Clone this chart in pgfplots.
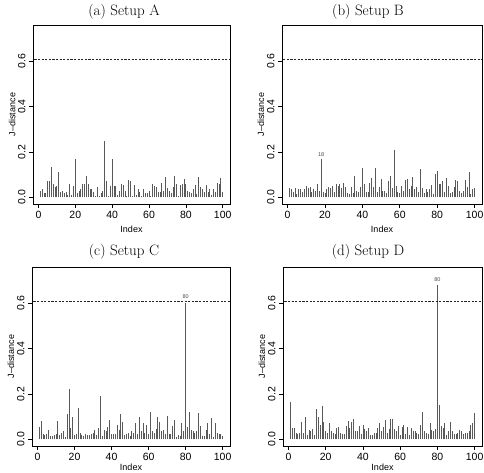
\documentclass[border=0pt]{standalone}
\usepackage{fontspec}
\setsansfont{Liberation Sans}
\usepackage{pgfplots}
\pgfplotsset{compat=1.18}
\pgfplotsset{
  rstyle/.style={
    scale only axis,
    width=#1,
    height=179pt,
    xmin=-2.96, xmax=103.96,
    ymin=-0.0292, ymax=0.7592,
    axis line style={line width=0.6pt},
    tick align=outside,
    major tick length=4pt,
    tick style={line width=0.6pt, black},
    xtick={0,20,40,60,80,100},
    ytick={0,0.2,0.4,0.6},
    xtick pos=bottom, ytick pos=left,
    /pgf/number format/assume math mode=true,
    every tick label/.append style={font=\fontsize{10.5}{11}\sffamily},
    yticklabel={\pgfmathprintnumber[fixed,fixed zerofill,precision=1]{\tick}},
    every y tick label/.append style={rotate=90, anchor=south},
    every x tick label/.append style={anchor=north},
    xlabel={Index},
    ylabel={J\textendash distance},
    every axis label/.append style={font=\fontsize{9}{10}\sffamily},
    every axis x label/.append style={at={(axis description cs:0.5,0)}, anchor=center},
    every axis y label/.append style={at={(axis description cs:-0.106,0.5)}, anchor=center},
  },
  top/.style={every axis x label/.append style={yshift=-25pt}},
  bot/.style={every axis x label/.append style={yshift=-21.5pt}},
  thr/.style={black!85, line width=0.45pt, dash pattern=on 2.2pt off 1.4pt},
  bars/.style={ycomb, no markers, black!65, line width=0.9pt},
}
\begin{document}
\begin{tikzpicture}
\useasboundingbox (0,0) rectangle (484pt,473pt);
% (a)
\node[font=\fontsize{15}{17}\selectfont] at (124pt,461pt) {(a) Setup A};
\begin{axis}[rstyle=197pt, top, at={(33pt,269pt)}]
\addplot[bars] coordinates {(1,0.03)(2,0.035)(3,0.02)(4,0.02)(5,0.07)(6,0.07)(7,0.135)(8,0.06)(9,0.045)(10,0.05)
(11,0.11)(12,0.025)(13,0.03)(14,0.02)(15,0.025)(16,0.01)(17,0.06)(18,0.01)(19,0.05)(20,0.17)
(21,0.02)(22,0.03)(23,0.035)(24,0.06)(25,0.06)(26,0.095)(27,0.06)(28,0.035)(29,0.035)(30,0.025)
(31,0.005)(32,0.045)(33,0.005)(34,0.02)(35,0.03)(36,0.25)(37,0.07)(38,0.005)(39,0.05)(40,0.17)
(41,0.05)(42,0.05)(43,0.01)(44,0.03)(45,0.06)(46,0.055)(47,0.03)(48,0.005)(49,0.075)(50,0.07)
(51,0.005)(52,0.055)(53,0.01)(54,0.035)(55,0.025)(56,0.005)(57,0.035)(58,0.02)(59,0.02)(60,0.03)
(61,0.005)(62,0.06)(63,0.05)(64,0.045)(65,0.025)(66,0.025)(67,0.065)(68,0.03)(69,0.09)(70,0.04)
(71,0.03)(72,0.02)(73,0.045)(74,0.095)(75,0.06)(76,0.005)(77,0.055)(78,0.06)(79,0.08)(80,0.06)
(81,0.03)(82,0.025)(83,0.02)(84,0.035)(85,0.055)(86,0.015)(87,0.09)(88,0.045)(89,0.035)(90,0.025)
(91,0.055)(92,0.025)(93,0.035)(94,0.01)(95,0.035)(96,0.025)(97,0.065)(98,0.06)(99,0.085)(100,0.025)};
\addplot[thr, sharp plot] coordinates {(-10,0.607)(110,0.607)};
\end{axis}
% (b)
\node[font=\fontsize{15}{17}\selectfont] at (368pt,461pt) {(b) Setup B};
\begin{axis}[rstyle=200pt, top, at={(282pt,269pt)}]
\addplot[bars] coordinates {(1,0.04)(2,0.035)(3,0.025)(4,0.04)(5,0.015)(6,0.035)(7,0.035)(8,0.025)(9,0.035)(10,0.05)
(11,0.04)(12,0.045)(13,0.025)(14,0.035)(15,0.03)(16,0.06)(17,0.03)(18,0.17)(19,0.025)(20,0.02)
(21,0.035)(22,0.045)(23,0.04)(24,0.05)(25,0.025)(26,0.06)(27,0.05)(28,0.06)(29,0.04)(30,0.065)
(31,0.045)(32,0.02)(33,0.015)(34,0.045)(35,0.02)(36,0.095)(37,0.03)(38,0.025)(39,0.045)(40,0.13)
(41,0.06)(42,0.025)(43,0.025)(44,0.065)(45,0.085)(46,0.045)(47,0.13)(48,0.025)(49,0.045)(50,0.08)
(51,0.03)(52,0.03)(53,0.02)(54,0.07)(55,0.095)(56,0.04)(57,0.21)(58,0.05)(59,0.025)(60,0.02)
(61,0.05)(62,0.03)(63,0.075)(64,0.08)(65,0.035)(66,0.05)(67,0.09)(68,0.035)(69,0.045)(70,0.025)
(71,0.125)(72,0.04)(73,0.02)(74,0.035)(75,0.025)(76,0.035)(77,0.055)(78,0.015)(79,0.105)(80,0.115)
(81,0.06)(82,0.06)(83,0.07)(84,0.025)(85,0.085)(86,0.05)(87,0.02)(88,0.025)(89,0.045)(90,0.075)
(91,0.07)(92,0.03)(93,0.02)(94,0.03)(95,0.075)(96,0.045)(97,0.11)(98,0.015)(99,0.035)(100,0.04)};
\addplot[thr, sharp plot] coordinates {(-10,0.607)(110,0.607)};
\node[font=\fontsize{5.5}{6}\sffamily, black!70] at (axis cs:18,0.19) {18};
\end{axis}
% (c)
\node[font=\fontsize{15}{17}\selectfont] at (124pt,221pt) {(c) Setup C};
\begin{axis}[rstyle=198pt, bot, at={(32pt,27pt)}]
\addplot[bars] coordinates {(1,0.055)(2,0.08)(3,0.025)(4,0.02)(5,0.025)(6,0.04)(7,0.015)(8,0.015)(9,0.02)(10,0.025)
(11,0.08)(12,0.02)(13,0.03)(14,0.035)(15,0.01)(16,0.11)(17,0.22)(18,0.05)(19,0.1)(20,0.02)
(21,0.025)(22,0.14)(23,0.03)(24,0.02)(25,0.015)(26,0.025)(27,0.02)(28,0.02)(29,0.025)(30,0.03)
(31,0.04)(32,0.02)(33,0.05)(34,0.19)(35,0.015)(36,0.04)(37,0.035)(38,0.055)(39,0.085)(40,0.025)
(41,0.025)(42,0.025)(43,0.065)(44,0.04)(45,0.11)(46,0.075)(47,0.02)(48,0.025)(49,0.03)(50,0.015)
(51,0.035)(52,0.03)(53,0.07)(54,0.025)(55,0.1)(56,0.035)(57,0.07)(58,0.03)(59,0.065)(60,0.025)
(61,0.12)(62,0.035)(63,0.03)(64,0.045)(65,0.1)(66,0.075)(67,0.035)(68,0.04)(69,0.025)(70,0.105)
(71,0.025)(72,0.025)(73,0.06)(74,0.085)(75,0.01)(76,0.02)(77,0.015)(78,0.07)(79,0.035)(80,0.6)
(81,0.055)(82,0.12)(83,0.04)(84,0.035)(85,0.03)(86,0.035)(87,0.115)(88,0.06)(89,0.015)(90,0.015)
(91,0.04)(92,0.07)(93,0.025)(94,0.095)(95,0.01)(96,0.07)(97,0.03)(98,0.025)(99,0.025)(100,0.015)};
\addplot[thr, sharp plot] coordinates {(-10,0.607)(110,0.607)};
\node[font=\fontsize{5.5}{6}\sffamily, black!70] at (axis cs:80,0.63) {80};
\end{axis}
% (d)
\node[font=\fontsize{15}{17}\selectfont] at (368pt,221pt) {(d) Setup D};
\begin{axis}[rstyle=199pt, bot, at={(283pt,27pt)}]
\addplot[bars] coordinates {(1,0.165)(2,0.05)(3,0.05)(4,0.03)(5,0.025)(6,0.03)(7,0.075)(8,0.03)(9,0.1)(10,0.02)
(11,0.04)(12,0.035)(13,0.045)(14,0.02)(15,0.135)(16,0.1)(17,0.065)(18,0.145)(19,0.075)(20,0.035)
(21,0.03)(22,0.07)(23,0.035)(24,0.03)(25,0.025)(26,0.05)(27,0.055)(28,0.03)(29,0.025)(30,0.025)
(31,0.06)(32,0.08)(33,0.05)(34,0.075)(35,0.09)(36,0.035)(37,0.035)(38,0.06)(39,0.025)(40,0.065)
(41,0.045)(42,0.035)(43,0.05)(44,0.02)(45,0.02)(46,0.03)(47,0.03)(48,0.05)(49,0.07)(50,0.035)
(51,0.055)(52,0.085)(53,0.03)(54,0.045)(55,0.09)(56,0.09)(57,0.045)(58,0.035)(59,0.06)(60,0.02)
(61,0.055)(62,0.065)(63,0.025)(64,0.055)(65,0.02)(66,0.05)(67,0.035)(68,0.035)(69,0.03)(70,0.025)
(71,0.065)(72,0.12)(73,0.035)(74,0.03)(75,0.025)(76,0.07)(77,0.04)(78,0.035)(79,0.045)(80,0.68)
(81,0.15)(82,0.06)(83,0.05)(84,0.07)(85,0.02)(86,0.035)(87,0.075)(88,0.035)(89,0.025)(90,0.025)
(91,0.03)(92,0.04)(93,0.035)(94,0.025)(95,0.03)(96,0.03)(97,0.035)(98,0.065)(99,0.07)(100,0.115)};
\addplot[thr, sharp plot] coordinates {(-10,0.607)(110,0.607)};
\node[font=\fontsize{5.5}{6}\sffamily, black!70] at (axis cs:80,0.705) {80};
\end{axis}
\end{tikzpicture}
\end{document}
